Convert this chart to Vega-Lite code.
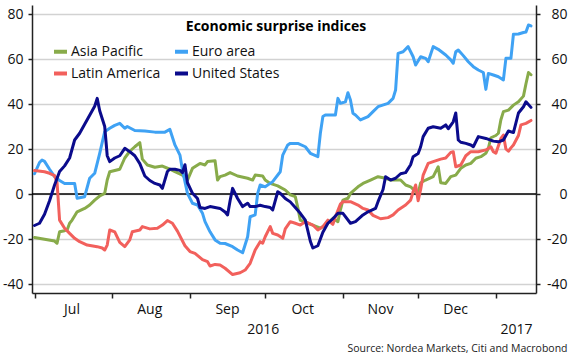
{
  "$schema": "https://vega.github.io/schema/vega-lite/v6.json",
  "width": 504,
  "height": 288,
  "autosize": {"type": "none"},
  "padding": {"left": 32, "top": 5, "right": 35, "bottom": 63},
  "background": "#ffffff",
  "config": {
    "font": "Open Sans",
    "view": {"stroke": null},
    "axis": {"labelFont": "Open Sans", "labelFontSize": 14, "labelColor": "#111111", "domainColor": "#222222", "domainWidth": 1.5, "tickColor": "#222222", "tickWidth": 1.5}
  },
  "title": {"text": "Economic surprise indices", "font": "Open Sans", "fontSize": 14, "fontWeight": "bold", "color": "#000000", "anchor": "middle", "frame": "group", "offset": -40, "baseline": "alphabetic", "dx": -8},
  "resolve": {"axis": {"y": "independent"}},
  "layer": [
    {
      "data": {"values": [{}]},
      "mark": {"type": "rule", "color": "#000000", "strokeWidth": 1.5},
      "encoding": {
        "y": {"datum": 0, "type": "quantitative", "axis": {"orient": "right", "title": null, "values": [-40, -20, 0, 20, 40, 60, 80], "grid": false, "tickSize": 4, "labelAlign": "right", "labelPadding": 27, "labelExpr": "'' + datum.value"}}
      }
    },
    {
      "data": {"values": [
        {"date":"2016-07-01","series":"Asia Pacific","value":-19.3},
        {"date":"2016-07-05","series":"Asia Pacific","value":-20.1},
        {"date":"2016-07-09","series":"Asia Pacific","value":-20.9},
        {"date":"2016-07-10","series":"Asia Pacific","value":-21.9},
        {"date":"2016-07-11","series":"Asia Pacific","value":-16.8},
        {"date":"2016-07-13","series":"Asia Pacific","value":-16.3},
        {"date":"2016-07-14","series":"Asia Pacific","value":-16},
        {"date":"2016-07-15","series":"Asia Pacific","value":-13},
        {"date":"2016-07-16","series":"Asia Pacific","value":-11.6},
        {"date":"2016-07-18","series":"Asia Pacific","value":-7.9},
        {"date":"2016-07-21","series":"Asia Pacific","value":-6.4},
        {"date":"2016-07-23","series":"Asia Pacific","value":-4.9},
        {"date":"2016-07-25","series":"Asia Pacific","value":-2.7},
        {"date":"2016-07-27","series":"Asia Pacific","value":-0.9},
        {"date":"2016-07-29","series":"Asia Pacific","value":0.3},
        {"date":"2016-07-30","series":"Asia Pacific","value":6.2},
        {"date":"2016-07-31","series":"Asia Pacific","value":9.9},
        {"date":"2016-08-04","series":"Asia Pacific","value":11},
        {"date":"2016-08-06","series":"Asia Pacific","value":16},
        {"date":"2016-08-08","series":"Asia Pacific","value":19},
        {"date":"2016-08-10","series":"Asia Pacific","value":21},
        {"date":"2016-08-12","series":"Asia Pacific","value":22.8},
        {"date":"2016-08-13","series":"Asia Pacific","value":15.5},
        {"date":"2016-08-15","series":"Asia Pacific","value":12.9},
        {"date":"2016-08-18","series":"Asia Pacific","value":11.9},
        {"date":"2016-08-21","series":"Asia Pacific","value":12.4},
        {"date":"2016-08-24","series":"Asia Pacific","value":11},
        {"date":"2016-08-26","series":"Asia Pacific","value":9.9},
        {"date":"2016-08-29","series":"Asia Pacific","value":8.4},
        {"date":"2016-08-31","series":"Asia Pacific","value":6.2},
        {"date":"2016-09-02","series":"Asia Pacific","value":11.4},
        {"date":"2016-09-05","series":"Asia Pacific","value":13.6},
        {"date":"2016-09-07","series":"Asia Pacific","value":12.9},
        {"date":"2016-09-08","series":"Asia Pacific","value":14.4},
        {"date":"2016-09-11","series":"Asia Pacific","value":14.8},
        {"date":"2016-09-12","series":"Asia Pacific","value":6.2},
        {"date":"2016-09-13","series":"Asia Pacific","value":7.7},
        {"date":"2016-09-15","series":"Asia Pacific","value":8.4},
        {"date":"2016-09-17","series":"Asia Pacific","value":9.5},
        {"date":"2016-09-20","series":"Asia Pacific","value":8},
        {"date":"2016-09-24","series":"Asia Pacific","value":7},
        {"date":"2016-09-26","series":"Asia Pacific","value":6.2},
        {"date":"2016-09-27","series":"Asia Pacific","value":8.4},
        {"date":"2016-09-30","series":"Asia Pacific","value":8},
        {"date":"2016-10-01","series":"Asia Pacific","value":6.2},
        {"date":"2016-10-03","series":"Asia Pacific","value":4.7},
        {"date":"2016-10-06","series":"Asia Pacific","value":3.6},
        {"date":"2016-10-09","series":"Asia Pacific","value":1.8},
        {"date":"2016-10-11","series":"Asia Pacific","value":-0.4},
        {"date":"2016-10-13","series":"Asia Pacific","value":-1.2},
        {"date":"2016-10-14","series":"Asia Pacific","value":-6},
        {"date":"2016-10-15","series":"Asia Pacific","value":-11.6},
        {"date":"2016-10-18","series":"Asia Pacific","value":-13},
        {"date":"2016-10-20","series":"Asia Pacific","value":-13.8},
        {"date":"2016-10-23","series":"Asia Pacific","value":-15.2},
        {"date":"2016-10-26","series":"Asia Pacific","value":-13},
        {"date":"2016-10-28","series":"Asia Pacific","value":-10.8},
        {"date":"2016-10-30","series":"Asia Pacific","value":-12.3},
        {"date":"2016-10-31","series":"Asia Pacific","value":-7},
        {"date":"2016-11-01","series":"Asia Pacific","value":-2.7},
        {"date":"2016-11-03","series":"Asia Pacific","value":-1.9},
        {"date":"2016-11-04","series":"Asia Pacific","value":0.3},
        {"date":"2016-11-07","series":"Asia Pacific","value":3.2},
        {"date":"2016-11-09","series":"Asia Pacific","value":4.7},
        {"date":"2016-11-12","series":"Asia Pacific","value":6.2},
        {"date":"2016-11-15","series":"Asia Pacific","value":7.7},
        {"date":"2016-11-18","series":"Asia Pacific","value":7},
        {"date":"2016-11-20","series":"Asia Pacific","value":6.2},
        {"date":"2016-11-24","series":"Asia Pacific","value":6.2},
        {"date":"2016-11-26","series":"Asia Pacific","value":4},
        {"date":"2016-11-28","series":"Asia Pacific","value":3.2},
        {"date":"2016-11-30","series":"Asia Pacific","value":1},
        {"date":"2016-12-01","series":"Asia Pacific","value":0.3},
        {"date":"2016-12-02","series":"Asia Pacific","value":5},
        {"date":"2016-12-04","series":"Asia Pacific","value":6.2},
        {"date":"2016-12-07","series":"Asia Pacific","value":7.7},
        {"date":"2016-12-09","series":"Asia Pacific","value":12.1},
        {"date":"2016-12-10","series":"Asia Pacific","value":5},
        {"date":"2016-12-12","series":"Asia Pacific","value":4.7},
        {"date":"2016-12-14","series":"Asia Pacific","value":7.7},
        {"date":"2016-12-16","series":"Asia Pacific","value":8.4},
        {"date":"2016-12-18","series":"Asia Pacific","value":11.4},
        {"date":"2016-12-20","series":"Asia Pacific","value":12.9},
        {"date":"2016-12-22","series":"Asia Pacific","value":13.6},
        {"date":"2016-12-24","series":"Asia Pacific","value":15.9},
        {"date":"2016-12-26","series":"Asia Pacific","value":16.6},
        {"date":"2016-12-28","series":"Asia Pacific","value":18.1},
        {"date":"2016-12-29","series":"Asia Pacific","value":20.3},
        {"date":"2016-12-30","series":"Asia Pacific","value":25},
        {"date":"2017-01-01","series":"Asia Pacific","value":26},
        {"date":"2017-01-02","series":"Asia Pacific","value":27},
        {"date":"2017-01-03","series":"Asia Pacific","value":33},
        {"date":"2017-01-04","series":"Asia Pacific","value":36.6},
        {"date":"2017-01-06","series":"Asia Pacific","value":37.3},
        {"date":"2017-01-08","series":"Asia Pacific","value":39.5},
        {"date":"2017-01-10","series":"Asia Pacific","value":41},
        {"date":"2017-01-12","series":"Asia Pacific","value":43.5},
        {"date":"2017-01-13","series":"Asia Pacific","value":49},
        {"date":"2017-01-14","series":"Asia Pacific","value":54},
        {"date":"2017-01-15","series":"Asia Pacific","value":53},

        {"date":"2016-07-01","series":"Euro area","value":9},
        {"date":"2016-07-03","series":"Euro area","value":14},
        {"date":"2016-07-04","series":"Euro area","value":15.1},
        {"date":"2016-07-05","series":"Euro area","value":14.5},
        {"date":"2016-07-07","series":"Euro area","value":11},
        {"date":"2016-07-09","series":"Euro area","value":7.7},
        {"date":"2016-07-11","series":"Euro area","value":6},
        {"date":"2016-07-13","series":"Euro area","value":4.7},
        {"date":"2016-07-17","series":"Euro area","value":4.7},
        {"date":"2016-07-18","series":"Euro area","value":-1.9},
        {"date":"2016-07-21","series":"Euro area","value":-1.2},
        {"date":"2016-07-23","series":"Euro area","value":7},
        {"date":"2016-07-25","series":"Euro area","value":9.2},
        {"date":"2016-07-27","series":"Euro area","value":18.1},
        {"date":"2016-07-29","series":"Euro area","value":27.7},
        {"date":"2016-07-31","series":"Euro area","value":29.2},
        {"date":"2016-08-02","series":"Euro area","value":30.5},
        {"date":"2016-08-04","series":"Euro area","value":31.4},
        {"date":"2016-08-06","series":"Euro area","value":29.2},
        {"date":"2016-08-07","series":"Euro area","value":30},
        {"date":"2016-08-10","series":"Euro area","value":28.2},
        {"date":"2016-08-14","series":"Euro area","value":28},
        {"date":"2016-08-18","series":"Euro area","value":27.5},
        {"date":"2016-08-22","series":"Euro area","value":27.5},
        {"date":"2016-08-24","series":"Euro area","value":28.7},
        {"date":"2016-08-26","series":"Euro area","value":21.8},
        {"date":"2016-08-28","series":"Euro area","value":17.3},
        {"date":"2016-08-29","series":"Euro area","value":10.7},
        {"date":"2016-08-31","series":"Euro area","value":0.3},
        {"date":"2016-09-02","series":"Euro area","value":-4.1},
        {"date":"2016-09-04","series":"Euro area","value":-4.9},
        {"date":"2016-09-06","series":"Euro area","value":-8.6},
        {"date":"2016-09-07","series":"Euro area","value":-12.3},
        {"date":"2016-09-09","series":"Euro area","value":-16.8},
        {"date":"2016-09-11","series":"Euro area","value":-20.4},
        {"date":"2016-09-13","series":"Euro area","value":-21.9},
        {"date":"2016-09-15","series":"Euro area","value":-22},
        {"date":"2016-09-18","series":"Euro area","value":-23.4},
        {"date":"2016-09-20","series":"Euro area","value":-24.9},
        {"date":"2016-09-22","series":"Euro area","value":-26.1},
        {"date":"2016-09-24","series":"Euro area","value":-19},
        {"date":"2016-09-25","series":"Euro area","value":-10.1},
        {"date":"2016-09-27","series":"Euro area","value":-9.3},
        {"date":"2016-09-28","series":"Euro area","value":0.3},
        {"date":"2016-09-29","series":"Euro area","value":4},
        {"date":"2016-10-01","series":"Euro area","value":3.2},
        {"date":"2016-10-04","series":"Euro area","value":5.5},
        {"date":"2016-10-07","series":"Euro area","value":9.9},
        {"date":"2016-10-08","series":"Euro area","value":17.3},
        {"date":"2016-10-10","series":"Euro area","value":21.8},
        {"date":"2016-10-11","series":"Euro area","value":22.5},
        {"date":"2016-10-14","series":"Euro area","value":22.5},
        {"date":"2016-10-17","series":"Euro area","value":21},
        {"date":"2016-10-19","series":"Euro area","value":18.1},
        {"date":"2016-10-22","series":"Euro area","value":16.6},
        {"date":"2016-10-23","series":"Euro area","value":27},
        {"date":"2016-10-24","series":"Euro area","value":34.4},
        {"date":"2016-10-25","series":"Euro area","value":35.1},
        {"date":"2016-10-29","series":"Euro area","value":35.1},
        {"date":"2016-10-30","series":"Euro area","value":42.5},
        {"date":"2016-10-31","series":"Euro area","value":40.3},
        {"date":"2016-11-02","series":"Euro area","value":41},
        {"date":"2016-11-03","series":"Euro area","value":45},
        {"date":"2016-11-04","series":"Euro area","value":41.8},
        {"date":"2016-11-05","series":"Euro area","value":35.9},
        {"date":"2016-11-06","series":"Euro area","value":35.1},
        {"date":"2016-11-08","series":"Euro area","value":32.9},
        {"date":"2016-11-11","series":"Euro area","value":34.4},
        {"date":"2016-11-13","series":"Euro area","value":36.6},
        {"date":"2016-11-15","series":"Euro area","value":38.8},
        {"date":"2016-11-19","series":"Euro area","value":40.3},
        {"date":"2016-11-21","series":"Euro area","value":42.5},
        {"date":"2016-11-22","series":"Euro area","value":46.2},
        {"date":"2016-11-23","series":"Euro area","value":62.5},
        {"date":"2016-11-25","series":"Euro area","value":63.2},
        {"date":"2016-11-27","series":"Euro area","value":65.5},
        {"date":"2016-11-29","series":"Euro area","value":61},
        {"date":"2016-11-30","series":"Euro area","value":57.3},
        {"date":"2016-12-02","series":"Euro area","value":61},
        {"date":"2016-12-04","series":"Euro area","value":60.3},
        {"date":"2016-12-05","series":"Euro area","value":58.8},
        {"date":"2016-12-07","series":"Euro area","value":65.5},
        {"date":"2016-12-09","series":"Euro area","value":64.3},
        {"date":"2016-12-12","series":"Euro area","value":61.8},
        {"date":"2016-12-14","series":"Euro area","value":59.6},
        {"date":"2016-12-15","series":"Euro area","value":58.1},
        {"date":"2016-12-16","series":"Euro area","value":63.2},
        {"date":"2016-12-17","series":"Euro area","value":64},
        {"date":"2016-12-19","series":"Euro area","value":61.5},
        {"date":"2016-12-21","series":"Euro area","value":58.8},
        {"date":"2016-12-23","series":"Euro area","value":56.6},
        {"date":"2016-12-25","series":"Euro area","value":55.1},
        {"date":"2016-12-27","series":"Euro area","value":54},
        {"date":"2016-12-28","series":"Euro area","value":46.5},
        {"date":"2016-12-29","series":"Euro area","value":53.6},
        {"date":"2016-12-31","series":"Euro area","value":52.9},
        {"date":"2017-01-02","series":"Euro area","value":52.1},
        {"date":"2017-01-04","series":"Euro area","value":50.7},
        {"date":"2017-01-05","series":"Euro area","value":60.3},
        {"date":"2017-01-07","series":"Euro area","value":60.3},
        {"date":"2017-01-08","series":"Euro area","value":71},
        {"date":"2017-01-10","series":"Euro area","value":71.1},
        {"date":"2017-01-12","series":"Euro area","value":71.8},
        {"date":"2017-01-13","series":"Euro area","value":72},
        {"date":"2017-01-14","series":"Euro area","value":75.1},
        {"date":"2017-01-15","series":"Euro area","value":74.7},

        {"date":"2016-07-01","series":"Latin America","value":10.4},
        {"date":"2016-07-05","series":"Latin America","value":9.9},
        {"date":"2016-07-07","series":"Latin America","value":9.2},
        {"date":"2016-07-09","series":"Latin America","value":8.2},
        {"date":"2016-07-10","series":"Latin America","value":5},
        {"date":"2016-07-11","series":"Latin America","value":-11.6},
        {"date":"2016-07-13","series":"Latin America","value":-15.2},
        {"date":"2016-07-15","series":"Latin America","value":-17.5},
        {"date":"2016-07-17","series":"Latin America","value":-19.7},
        {"date":"2016-07-19","series":"Latin America","value":-21.2},
        {"date":"2016-07-22","series":"Latin America","value":-22.7},
        {"date":"2016-07-26","series":"Latin America","value":-23.4},
        {"date":"2016-07-28","series":"Latin America","value":-24},
        {"date":"2016-07-29","series":"Latin America","value":-24.9},
        {"date":"2016-07-30","series":"Latin America","value":-22.7},
        {"date":"2016-07-31","series":"Latin America","value":-16},
        {"date":"2016-08-02","series":"Latin America","value":-16.8},
        {"date":"2016-08-04","series":"Latin America","value":-21.5},
        {"date":"2016-08-06","series":"Latin America","value":-23.4},
        {"date":"2016-08-08","series":"Latin America","value":-20.4},
        {"date":"2016-08-09","series":"Latin America","value":-16.8},
        {"date":"2016-08-12","series":"Latin America","value":-16},
        {"date":"2016-08-13","series":"Latin America","value":-14.5},
        {"date":"2016-08-16","series":"Latin America","value":-15.5},
        {"date":"2016-08-19","series":"Latin America","value":-15.2},
        {"date":"2016-08-21","series":"Latin America","value":-13.8},
        {"date":"2016-08-23","series":"Latin America","value":-11.8},
        {"date":"2016-08-25","series":"Latin America","value":-13},
        {"date":"2016-08-27","series":"Latin America","value":-16.5},
        {"date":"2016-08-30","series":"Latin America","value":-23},
        {"date":"2016-09-01","series":"Latin America","value":-25.6},
        {"date":"2016-09-03","series":"Latin America","value":-26.4},
        {"date":"2016-09-06","series":"Latin America","value":-29.2},
        {"date":"2016-09-08","series":"Latin America","value":-30.1},
        {"date":"2016-09-09","series":"Latin America","value":-32},
        {"date":"2016-09-11","series":"Latin America","value":-31.3},
        {"date":"2016-09-13","series":"Latin America","value":-31.6},
        {"date":"2016-09-15","series":"Latin America","value":-33},
        {"date":"2016-09-18","series":"Latin America","value":-35.8},
        {"date":"2016-09-21","series":"Latin America","value":-35},
        {"date":"2016-09-23","series":"Latin America","value":-33.8},
        {"date":"2016-09-25","series":"Latin America","value":-30.8},
        {"date":"2016-09-27","series":"Latin America","value":-24.9},
        {"date":"2016-09-29","series":"Latin America","value":-21.2},
        {"date":"2016-09-30","series":"Latin America","value":-21.9},
        {"date":"2016-10-01","series":"Latin America","value":-19},
        {"date":"2016-10-03","series":"Latin America","value":-14.5},
        {"date":"2016-10-04","series":"Latin America","value":-17.5},
        {"date":"2016-10-06","series":"Latin America","value":-18.2},
        {"date":"2016-10-08","series":"Latin America","value":-19.7},
        {"date":"2016-10-09","series":"Latin America","value":-15.5},
        {"date":"2016-10-11","series":"Latin America","value":-12.3},
        {"date":"2016-10-13","series":"Latin America","value":-13},
        {"date":"2016-10-15","series":"Latin America","value":-13.8},
        {"date":"2016-10-17","series":"Latin America","value":-12.3},
        {"date":"2016-10-20","series":"Latin America","value":-13.8},
        {"date":"2016-10-22","series":"Latin America","value":-16},
        {"date":"2016-10-24","series":"Latin America","value":-14.5},
        {"date":"2016-10-26","series":"Latin America","value":-11.6},
        {"date":"2016-10-28","series":"Latin America","value":-13.5},
        {"date":"2016-10-29","series":"Latin America","value":-10.1},
        {"date":"2016-10-31","series":"Latin America","value":-4.5},
        {"date":"2016-11-01","series":"Latin America","value":-3.4},
        {"date":"2016-11-04","series":"Latin America","value":-3.4},
        {"date":"2016-11-07","series":"Latin America","value":-4.9},
        {"date":"2016-11-09","series":"Latin America","value":-6.4},
        {"date":"2016-11-11","series":"Latin America","value":-7.1},
        {"date":"2016-11-13","series":"Latin America","value":-9.5},
        {"date":"2016-11-16","series":"Latin America","value":-11},
        {"date":"2016-11-19","series":"Latin America","value":-10.5},
        {"date":"2016-11-21","series":"Latin America","value":-9.3},
        {"date":"2016-11-23","series":"Latin America","value":-7.1},
        {"date":"2016-11-26","series":"Latin America","value":-4.9},
        {"date":"2016-11-28","series":"Latin America","value":-2.7},
        {"date":"2016-11-29","series":"Latin America","value":1},
        {"date":"2016-11-30","series":"Latin America","value":4},
        {"date":"2016-12-01","series":"Latin America","value":-3},
        {"date":"2016-12-02","series":"Latin America","value":2},
        {"date":"2016-12-03","series":"Latin America","value":8.4},
        {"date":"2016-12-05","series":"Latin America","value":13.6},
        {"date":"2016-12-07","series":"Latin America","value":14.4},
        {"date":"2016-12-10","series":"Latin America","value":15.5},
        {"date":"2016-12-12","series":"Latin America","value":16},
        {"date":"2016-12-14","series":"Latin America","value":18.5},
        {"date":"2016-12-15","series":"Latin America","value":18.8},
        {"date":"2016-12-16","series":"Latin America","value":12.1},
        {"date":"2016-12-18","series":"Latin America","value":12.9},
        {"date":"2016-12-20","series":"Latin America","value":17},
        {"date":"2016-12-22","series":"Latin America","value":18.8},
        {"date":"2016-12-25","series":"Latin America","value":18.8},
        {"date":"2016-12-28","series":"Latin America","value":19.6},
        {"date":"2016-12-30","series":"Latin America","value":21},
        {"date":"2016-12-31","series":"Latin America","value":18.8},
        {"date":"2017-01-01","series":"Latin America","value":18.1},
        {"date":"2017-01-03","series":"Latin America","value":24.7},
        {"date":"2017-01-04","series":"Latin America","value":26.2},
        {"date":"2017-01-05","series":"Latin America","value":20},
        {"date":"2017-01-06","series":"Latin America","value":19},
        {"date":"2017-01-07","series":"Latin America","value":20.5},
        {"date":"2017-01-08","series":"Latin America","value":21.8},
        {"date":"2017-01-10","series":"Latin America","value":26},
        {"date":"2017-01-11","series":"Latin America","value":30.7},
        {"date":"2017-01-13","series":"Latin America","value":31.4},
        {"date":"2017-01-15","series":"Latin America","value":32.7},

        {"date":"2016-07-01","series":"United States","value":-14},
        {"date":"2016-07-03","series":"United States","value":-13},
        {"date":"2016-07-05","series":"United States","value":-9},
        {"date":"2016-07-07","series":"United States","value":-3},
        {"date":"2016-07-09","series":"United States","value":4},
        {"date":"2016-07-11","series":"United States","value":10},
        {"date":"2016-07-13","series":"United States","value":12.5},
        {"date":"2016-07-15","series":"United States","value":16},
        {"date":"2016-07-17","series":"United States","value":24},
        {"date":"2016-07-19","series":"United States","value":27},
        {"date":"2016-07-21","series":"United States","value":31},
        {"date":"2016-07-23","series":"United States","value":35},
        {"date":"2016-07-25","series":"United States","value":39},
        {"date":"2016-07-26","series":"United States","value":42.5},
        {"date":"2016-07-27","series":"United States","value":37},
        {"date":"2016-07-29","series":"United States","value":30},
        {"date":"2016-07-30","series":"United States","value":17},
        {"date":"2016-07-31","series":"United States","value":14.4},
        {"date":"2016-08-02","series":"United States","value":16},
        {"date":"2016-08-04","series":"United States","value":17},
        {"date":"2016-08-06","series":"United States","value":20.3},
        {"date":"2016-08-08","series":"United States","value":18.8},
        {"date":"2016-08-10","series":"United States","value":17},
        {"date":"2016-08-12","series":"United States","value":13.5},
        {"date":"2016-08-14","series":"United States","value":8},
        {"date":"2016-08-16","series":"United States","value":6},
        {"date":"2016-08-18","series":"United States","value":4.7},
        {"date":"2016-08-20","series":"United States","value":4},
        {"date":"2016-08-21","series":"United States","value":2.5},
        {"date":"2016-08-23","series":"United States","value":10},
        {"date":"2016-08-24","series":"United States","value":11},
        {"date":"2016-08-26","series":"United States","value":11},
        {"date":"2016-08-28","series":"United States","value":10.5},
        {"date":"2016-08-29","series":"United States","value":9.5},
        {"date":"2016-08-30","series":"United States","value":13},
        {"date":"2016-08-31","series":"United States","value":5},
        {"date":"2016-09-02","series":"United States","value":0.3},
        {"date":"2016-09-04","series":"United States","value":-2},
        {"date":"2016-09-05","series":"United States","value":-6},
        {"date":"2016-09-07","series":"United States","value":-6.4},
        {"date":"2016-09-09","series":"United States","value":-5.6},
        {"date":"2016-09-11","series":"United States","value":-6},
        {"date":"2016-09-13","series":"United States","value":-6.4},
        {"date":"2016-09-15","series":"United States","value":-8},
        {"date":"2016-09-16","series":"United States","value":-9.3},
        {"date":"2016-09-17","series":"United States","value":-3},
        {"date":"2016-09-18","series":"United States","value":2.5},
        {"date":"2016-09-20","series":"United States","value":-2},
        {"date":"2016-09-22","series":"United States","value":-5.6},
        {"date":"2016-09-24","series":"United States","value":-4.1},
        {"date":"2016-09-25","series":"United States","value":-5.6},
        {"date":"2016-09-27","series":"United States","value":-5.6},
        {"date":"2016-09-29","series":"United States","value":-5},
        {"date":"2016-10-01","series":"United States","value":-5.6},
        {"date":"2016-10-03","series":"United States","value":-6},
        {"date":"2016-10-04","series":"United States","value":-7.1},
        {"date":"2016-10-06","series":"United States","value":1},
        {"date":"2016-10-07","series":"United States","value":0.3},
        {"date":"2016-10-09","series":"United States","value":-2},
        {"date":"2016-10-11","series":"United States","value":-3.5},
        {"date":"2016-10-13","series":"United States","value":-6},
        {"date":"2016-10-15","series":"United States","value":-8.6},
        {"date":"2016-10-17","series":"United States","value":-11.6},
        {"date":"2016-10-19","series":"United States","value":-21},
        {"date":"2016-10-20","series":"United States","value":-24},
        {"date":"2016-10-22","series":"United States","value":-23},
        {"date":"2016-10-24","series":"United States","value":-17},
        {"date":"2016-10-26","series":"United States","value":-13},
        {"date":"2016-10-28","series":"United States","value":-11},
        {"date":"2016-10-30","series":"United States","value":-8.6},
        {"date":"2016-11-01","series":"United States","value":-8.6},
        {"date":"2016-11-04","series":"United States","value":-13},
        {"date":"2016-11-06","series":"United States","value":-12.3},
        {"date":"2016-11-09","series":"United States","value":-9.3},
        {"date":"2016-11-11","series":"United States","value":-7.9},
        {"date":"2016-11-14","series":"United States","value":-6.4},
        {"date":"2016-11-15","series":"United States","value":-3.4},
        {"date":"2016-11-17","series":"United States","value":2},
        {"date":"2016-11-18","series":"United States","value":7.7},
        {"date":"2016-11-20","series":"United States","value":6.2},
        {"date":"2016-11-22","series":"United States","value":7},
        {"date":"2016-11-24","series":"United States","value":9},
        {"date":"2016-11-26","series":"United States","value":9.5},
        {"date":"2016-11-28","series":"United States","value":13},
        {"date":"2016-11-29","series":"United States","value":16.6},
        {"date":"2016-12-01","series":"United States","value":18},
        {"date":"2016-12-02","series":"United States","value":21},
        {"date":"2016-12-03","series":"United States","value":25.5},
        {"date":"2016-12-05","series":"United States","value":29.2},
        {"date":"2016-12-07","series":"United States","value":29.9},
        {"date":"2016-12-10","series":"United States","value":29.2},
        {"date":"2016-12-12","series":"United States","value":30.7},
        {"date":"2016-12-13","series":"United States","value":29},
        {"date":"2016-12-15","series":"United States","value":32.1},
        {"date":"2016-12-16","series":"United States","value":36},
        {"date":"2016-12-17","series":"United States","value":24},
        {"date":"2016-12-18","series":"United States","value":23},
        {"date":"2016-12-20","series":"United States","value":22.5},
        {"date":"2016-12-22","series":"United States","value":21.8},
        {"date":"2016-12-23","series":"United States","value":21},
        {"date":"2016-12-25","series":"United States","value":25.5},
        {"date":"2016-12-28","series":"United States","value":24.7},
        {"date":"2016-12-31","series":"United States","value":23.5},
        {"date":"2017-01-02","series":"United States","value":23.2},
        {"date":"2017-01-04","series":"United States","value":24},
        {"date":"2017-01-06","series":"United States","value":28},
        {"date":"2017-01-08","series":"United States","value":27.3},
        {"date":"2017-01-10","series":"United States","value":36},
        {"date":"2017-01-12","series":"United States","value":38.8},
        {"date":"2017-01-13","series":"United States","value":41},
        {"date":"2017-01-15","series":"United States","value":38.5}
      ]},
      "mark": {"type": "line", "strokeWidth": 3, "strokeJoin": "round", "strokeCap": "round"},
      "encoding": {
        "x": {
          "field": "date", "type": "temporal",
          "scale": {"domain": [{"year": 2016, "month": 6, "date": 30}, {"year": 2017, "month": 1, "date": 17}]},
          "axis": {
            "values": [
              {"year": 2016, "month": 7, "date": 1}, {"year": 2016, "month": 8, "date": 1}, {"year": 2016, "month": 9, "date": 1},
              {"year": 2016, "month": 10, "date": 1}, {"year": 2016, "month": 11, "date": 1}, {"year": 2016, "month": 12, "date": 1},
              {"year": 2017, "month": 1, "date": 1}, {"year": 2016, "month": 9, "date": 30}, {"year": 2017, "month": 1, "date": 9}
            ],
            "grid": false,
            "tickSize": 5,
            "tickOpacity": {"condition": {"test": "date(datum.value) == 1", "value": 1}, "value": 0},
            "labelExpr": "date(datum.value) == 1 ? (month(datum.value) == 0 ? '' : timeFormat(datum.value, '%b')) : timeFormat(datum.value, '%Y')",
            "labelOffset": {"condition": {"test": "date(datum.value) == 1", "value": 37}, "value": 0},
            "labelPadding": {"condition": {"test": "date(datum.value) == 1", "value": 4}, "value": 24},
            "labelAlign": "center",
            "labelFlush": false,
            "labelOverlap": false,
            "labelBound": false,
            "title": "Source: Nordea Markets, Citi and Macrobond",
            "titleFont": "Open Sans",
            "titleFontSize": 10.5,
            "titleFontWeight": "normal",
            "titleColor": "#222222",
            "titleAlign": "right",
            "titleAnchor": "end",
            "titleBaseline": "middle",
            "titleX": 535,
            "titleY": 55
          }
        },
        "y": {
          "field": "value", "type": "quantitative",
          "scale": {"domain": [-44, 84], "nice": false, "zero": false},
          "axis": {"orient": "left", "title": null, "values": [-40, -20, 0, 20, 40, 60, 80], "grid": true, "gridColor": "#d2d2d2", "gridWidth": 1.5, "tickSize": 4, "labelPadding": 5, "labelExpr": "'' + datum.value"}
        },
        "color": {
          "field": "series", "type": "nominal",
          "scale": {"domain": ["Asia Pacific", "Euro area", "Latin America", "United States"], "range": ["#88ab4a", "#3fa2f4", "#f2605c", "#0b0b8c"]},
          "legend": {"orient": "none", "legendX": 20, "legendY": 38, "direction": "horizontal", "columns": 2, "title": null, "symbolType": "stroke", "symbolStrokeWidth": 4, "symbolSize": 169, "labelFont": "Open Sans", "labelFontSize": 14, "labelColor": "#111111", "labelOffset": 2, "rowPadding": 5, "columnPadding": 6, "padding": 0}
        }
      }
    }
  ]
}
